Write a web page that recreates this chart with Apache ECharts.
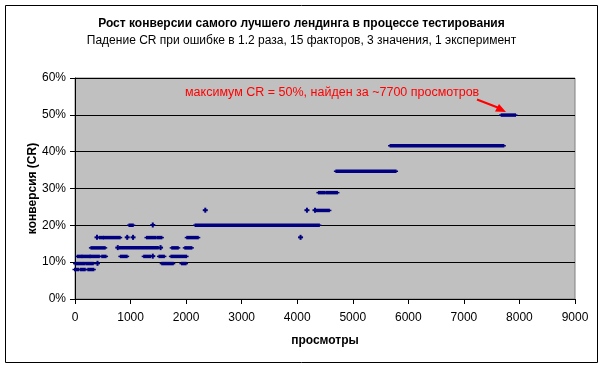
<!DOCTYPE html>
<html>
<head>
<meta charset="utf-8">
<script src="https://cdn.jsdelivr.net/npm/echarts@6/dist/echarts.min.js"></script>
<style>
html,body{margin:0;padding:0;background:#fff;}
#c{width:603px;height:367px;}
</style>
</head>
<body>
<div id="c"></div>
<script>
// CR levels (%) and runs of consecutive test points [fromViews, toViews] at each level
const levels = [8.07, 9.69, 11.63, 13.95, 16.74, 20.09, 24.11, 28.94, 34.72, 41.67, 50];
const runs_8 = [[0,55],[105,175],[240,330]];
const runs_9_7 = [[10,170],[210,320],[405,405],[1570,1760],[1925,1990]];
const runs_11_6 = [[50,115],[135,265],[280,430],[490,550],[825,930],[1245,1350],[1400,1400],[1520,1600],[1735,2000]];
const runs_14 = [[295,535],[770,770],[810,1490],[1540,1540],[1750,1850],[1985,2095]];
const runs_16_7 = [[396,396],[450,505],[520,805],[940,940],[1045,1045],[1295,1450],[1490,1555],[2020,2210],[4060,4060]];
const runs_20 = [[980,1040],[1400,1400],[2170,4390]];
const runs_24 = [[2345,2345],[4175,4175],[4320,4320],[4355,4570]];
const runs_29 = [[4390,4495],[4535,4715]];
const runs_35 = [[4705,5770]];
const runs_41_7 = [[5680,7710]];
const runs_50 = [[7680,7920]];
const runsByLevel = [runs_8, runs_9_7, runs_11_6, runs_14, runs_16_7, runs_20, runs_24, runs_29, runs_35, runs_41_7, runs_50];

const xTicks = {min: 0, max: 9000, interval: 1000};
const yTicks = {min: 0, max: 60, interval: 10};

const titleText = 'Рост конверсии самого лучшего лендинга в процессе тестирования';
const subtitleText = 'Падение CR при ошибке в 1.2 раза, 15 факторов, 3 значения, 1 эксперимент';
const noteText = 'максимум CR = 50%, найден за ~7700 просмотров';

const data = [];
runsByLevel.forEach((runs, i) => runs.forEach(r => data.push([r[0], r[1], levels[i]])));

const NAVY = '#000080';
function plus(p) {
  return [
    {type:'rect', shape:{x:p[0]-2.5, y:p[1]-1, width:5, height:2}, style:{fill:NAVY}},
    {type:'rect', shape:{x:p[0]-1, y:p[1]-2.5, width:2, height:5}, style:{fill:NAVY}}
  ];
}

const chart = echarts.init(document.getElementById('c'), null, {renderer:'canvas'});
const FONT = 'Liberation Sans, Arial, sans-serif';
chart.setOption({
  animation: false,
  backgroundColor: '#fff',
  textStyle: {fontFamily: FONT},
  title: [
    {text: titleText, left: 'center', top: 13, textStyle:{fontFamily:FONT, fontSize:12, fontWeight:'bold', color:'#000'}},
    {text: subtitleText, left: 'center', top: 30, textStyle:{fontFamily:FONT, fontSize:12, fontWeight:'normal', color:'#000'}}
  ],
  grid: {left: 75, top: 78, width: 500, height: 221, show: true, backgroundColor: '#C0C0C0', borderColor: '#808080', borderWidth: 1},
  xAxis: {
    type: 'value', min: xTicks.min, max: xTicks.max, interval: xTicks.interval,
    name: 'просмотры', nameLocation: 'middle', nameGap: 36, nameMoveOverlap: false,
    nameTextStyle: {fontFamily:FONT, fontSize:12, fontWeight:'bold', color:'#000'},
    axisLine: {show:true, onZero:false, lineStyle:{color:'#000', width:1}},
    axisTick: {show:true, inside:false, length:5, lineStyle:{color:'#000'}},
    axisLabel: {fontFamily:FONT, fontSize:12, color:'#000', margin:13, formatter: v => String(v)},
    splitLine: {show:false}
  },
  yAxis: {
    type: 'value', min: yTicks.min, max: yTicks.max, interval: yTicks.interval,
    name: 'конверсия (CR)', nameLocation: 'middle', nameGap: 36, nameRotate: 90, nameMoveOverlap: false,
    nameTextStyle: {fontFamily:FONT, fontSize:12, fontWeight:'bold', color:'#000'},
    axisLine: {show:true, onZero:false, lineStyle:{color:'#000', width:1}},
    axisTick: {show:true, inside:false, length:5, lineStyle:{color:'#000'}},
    axisLabel: {fontFamily:FONT, fontSize:12, color:'#000', margin:9, formatter:'{value}%'},
    splitLine: {show:true, lineStyle:{color:'#000', width:1}}
  },
  series: [{
    type: 'custom',
    encode: {x:[0,1], y:2},
    data: data,
    renderItem: function(params, api) {
      const x0 = api.value(0), x1 = api.value(1), y = api.value(2);
      const p0 = api.coord([x0, y]), p1 = api.coord([x1, y]);
      const children = [];
      if (x1 > x0) {
        children.push({type:'rect', shape:{x:p0[0]-1, y:p0[1]-1.5, width:p1[0]-p0[0]+2, height:3.5}, style:{fill:NAVY}});
        children.push({type:'rect', shape:{x:p0[0]-2.5, y:p0[1]-0.5, width:p1[0]-p0[0]+5, height:1.5}, style:{fill:NAVY}});
      } else {
        plus(p0).forEach(c => children.push(c));
      }
      return {type:'group', children: children};
    }
  }],
  graphic: [
    {type:'rect', shape:{x:5.5, y:5.5, width:592, height:357}, style:{fill:'none', stroke:'#000', lineWidth:1}, z:100},
    {type:'text', x:185, y:93, style:{text:noteText, fill:'#FF0000', font:'12.5px ' + FONT, textVerticalAlign:'middle'}, z:100},
    {type:'line', shape:{x1:477, y1:99.5, x2:499, y2:108}, style:{stroke:'#FF0000', lineWidth:2}, z:100},
    {type:'polygon', shape:{points:[[506,112],[495,111.5],[499,104]]}, style:{fill:'#FF0000'}, z:100}
  ]
});
</script>
</body>
</html>
